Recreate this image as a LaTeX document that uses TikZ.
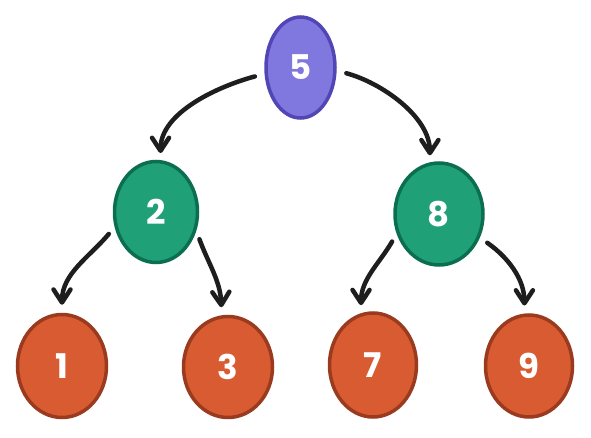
\documentclass[tikz,border=0pt]{standalone}
\usepackage{fontspec}
\setmainfont{Poppins}
\usetikzlibrary{arrows.meta,shapes.geometric}
\definecolor{pfill}{HTML}{8077DF}
\definecolor{pdraw}{HTML}{5246B6}
\definecolor{gfill}{HTML}{20A077}
\definecolor{gdraw}{HTML}{0C6E50}
\definecolor{ofill}{HTML}{D95B32}
\definecolor{odraw}{HTML}{9A3A1E}
\definecolor{ink}{HTML}{1E1E1E}
\begin{document}
\begin{tikzpicture}[x=1pt,y=1pt,
  bubble/.style={shape=ellipse, line width=3.5pt, text=white, font=\fontsize{34}{34}\selectfont\bfseries, inner sep=0pt},
  purplebub/.style={bubble, fill=pfill, draw=pdraw},
  greenbub/.style={bubble, fill=gfill, draw=gdraw},
  orangebub/.style={bubble, fill=ofill, draw=odraw},
  link/.style={draw=ink, line width=4.5pt, line cap=round,
    -{Straight Barb[length=13pt,width=17pt,line width=4.5pt,round]}},
  ]
\useasboundingbox (0,0) rectangle (591,437);
\node[purplebub, minimum width=69pt, minimum height=101pt] (n5) at (300.5,369.5) {5};
\node[greenbub, minimum width=83pt, minimum height=101pt] (n2) at (156,225) {2};
\node[greenbub, minimum width=88pt, minimum height=102pt] (n8) at (439,223) {8};
\node[orangebub, minimum width=89pt, minimum height=103pt] (n1) at (62,71) {1};
\node[orangebub, minimum width=89pt, minimum height=101pt] (n3) at (228,70) {3};
\node[orangebub, minimum width=87pt, minimum height=104pt] (n7) at (373,72) {7};
\node[orangebub, minimum width=87pt, minimum height=102pt] (n9) at (529,71) {9};

\draw[link, shorten <=10pt, shorten >=7pt] (n5.190) to[out=195, in=90, looseness=0.9] (n2.85);
\draw[link, shorten <=10pt, shorten >=7pt] (n5.-5) to[out=-15, in=90, looseness=0.9] (n8.100);
\draw[link, shorten <=9pt, shorten >=8pt] (n2.200) to[out=230, in=90] (n1.north);
\draw[link, shorten <=9pt, shorten >=8pt] (n2.-25) to[out=-70, in=92] (n3.97);
\draw[link, shorten <=9pt, shorten >=8pt] (n8.205) to[out=240, in=90] (n7.103);
\draw[link, shorten <=9pt, shorten >=8pt] (n8.-30) to[out=-35, in=90] (n9.95);
\end{tikzpicture}
\end{document}
